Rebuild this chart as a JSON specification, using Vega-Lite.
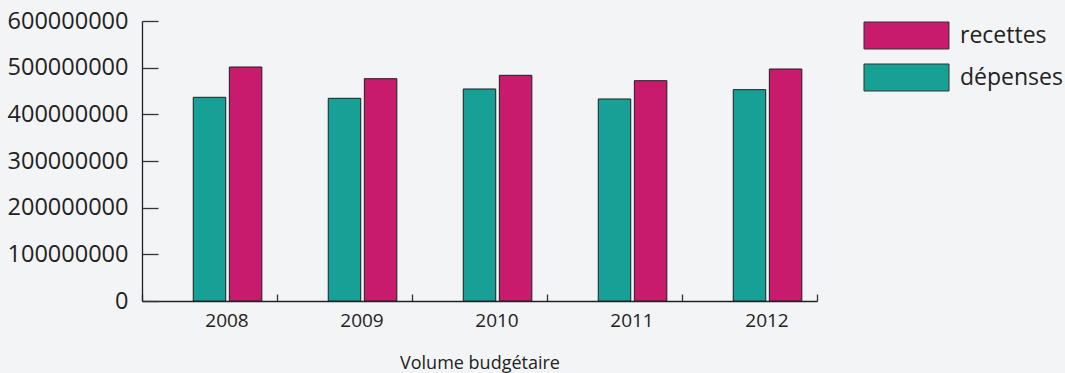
{
  "$schema": "https://vega.github.io/schema/vega-lite/v6.json",
  "width": 675,
  "height": 280,
  "autosize": "none",
  "padding": {"left": 142, "top": 21, "right": 248, "bottom": 72},
  "background": "#f3f4f6",
  "config": {
    "view": {"stroke": null},
    "font": "Open Sans",
    "axis": {"grid": false, "domainColor": "#222222", "tickColor": "#333333", "labelColor": "#222222", "titleColor": "#222222", "labelFont": "Open Sans", "titleFont": "Open Sans", "titleFontWeight": "normal"}
  },
  "data": {
    "values": [
      {"annee": "2008", "type": "dépenses", "montant": 436500000},
      {"annee": "2008", "type": "recettes", "montant": 501400000},
      {"annee": "2009", "type": "dépenses", "montant": 434300000},
      {"annee": "2009", "type": "recettes", "montant": 476400000},
      {"annee": "2010", "type": "dépenses", "montant": 454300000},
      {"annee": "2010", "type": "recettes", "montant": 483600000},
      {"annee": "2011", "type": "dépenses", "montant": 432900000},
      {"annee": "2011", "type": "recettes", "montant": 472100000},
      {"annee": "2012", "type": "dépenses", "montant": 452900000},
      {"annee": "2012", "type": "recettes", "montant": 497100000}
    ]
  },
  "mark": {"type": "bar", "stroke": "#1e1e1e", "strokeWidth": 1},
  "encoding": {
    "x": {
      "field": "annee",
      "type": "nominal",
      "title": "Volume budgétaire",
      "scale": {"paddingInner": 0, "paddingOuter": 0},
      "axis": {
        "labelAngle": 0,
        "labelFontSize": 19,
        "labelOffset": 17,
        "labelPadding": 17,
        "tickBand": "extent",
        "tickSize": -7,
        "tickWidth": 1.3,
        "domainWidth": 1.3,
        "titleFontSize": 18,
        "titlePadding": 24
      }
    },
    "xOffset": {
      "field": "type",
      "type": "nominal",
      "scale": {"domain": ["_", "dépenses", "recettes"], "paddingInner": 0.1, "paddingOuter": 0.42}
    },
    "y": {
      "field": "montant",
      "type": "quantitative",
      "title": null,
      "scale": {"domain": [0, 600000000]},
      "axis": {
        "values": [0, 100000000, 200000000, 300000000, 400000000, 500000000, 600000000],
        "format": "d",
        "labelFontSize": 23.5,
        "labelPadding": 30,
        "tickSize": -16,
        "tickWidth": 1.3,
        "domainWidth": 1.3
      }
    },
    "color": {
      "field": "type",
      "type": "nominal",
      "scale": {"domain": ["recettes", "dépenses"], "range": ["#c81b6e", "#16a096"]},
      "legend": {
        "title": null,
        "orient": "none",
        "legendX": 753,
        "legendY": 3,
        "symbolType": "M-4,-1.27H4V1.27H-4Z",
        "symbolSize": 451.6,
        "symbolStrokeColor": "#333333",
        "symbolStrokeWidth": 1,
        "symbolOpacity": 1,
        "labelFontSize": 23,
        "labelColor": "#222222",
        "labelOffset": 42,
        "rowPadding": 11
      }
    }
  }
}
